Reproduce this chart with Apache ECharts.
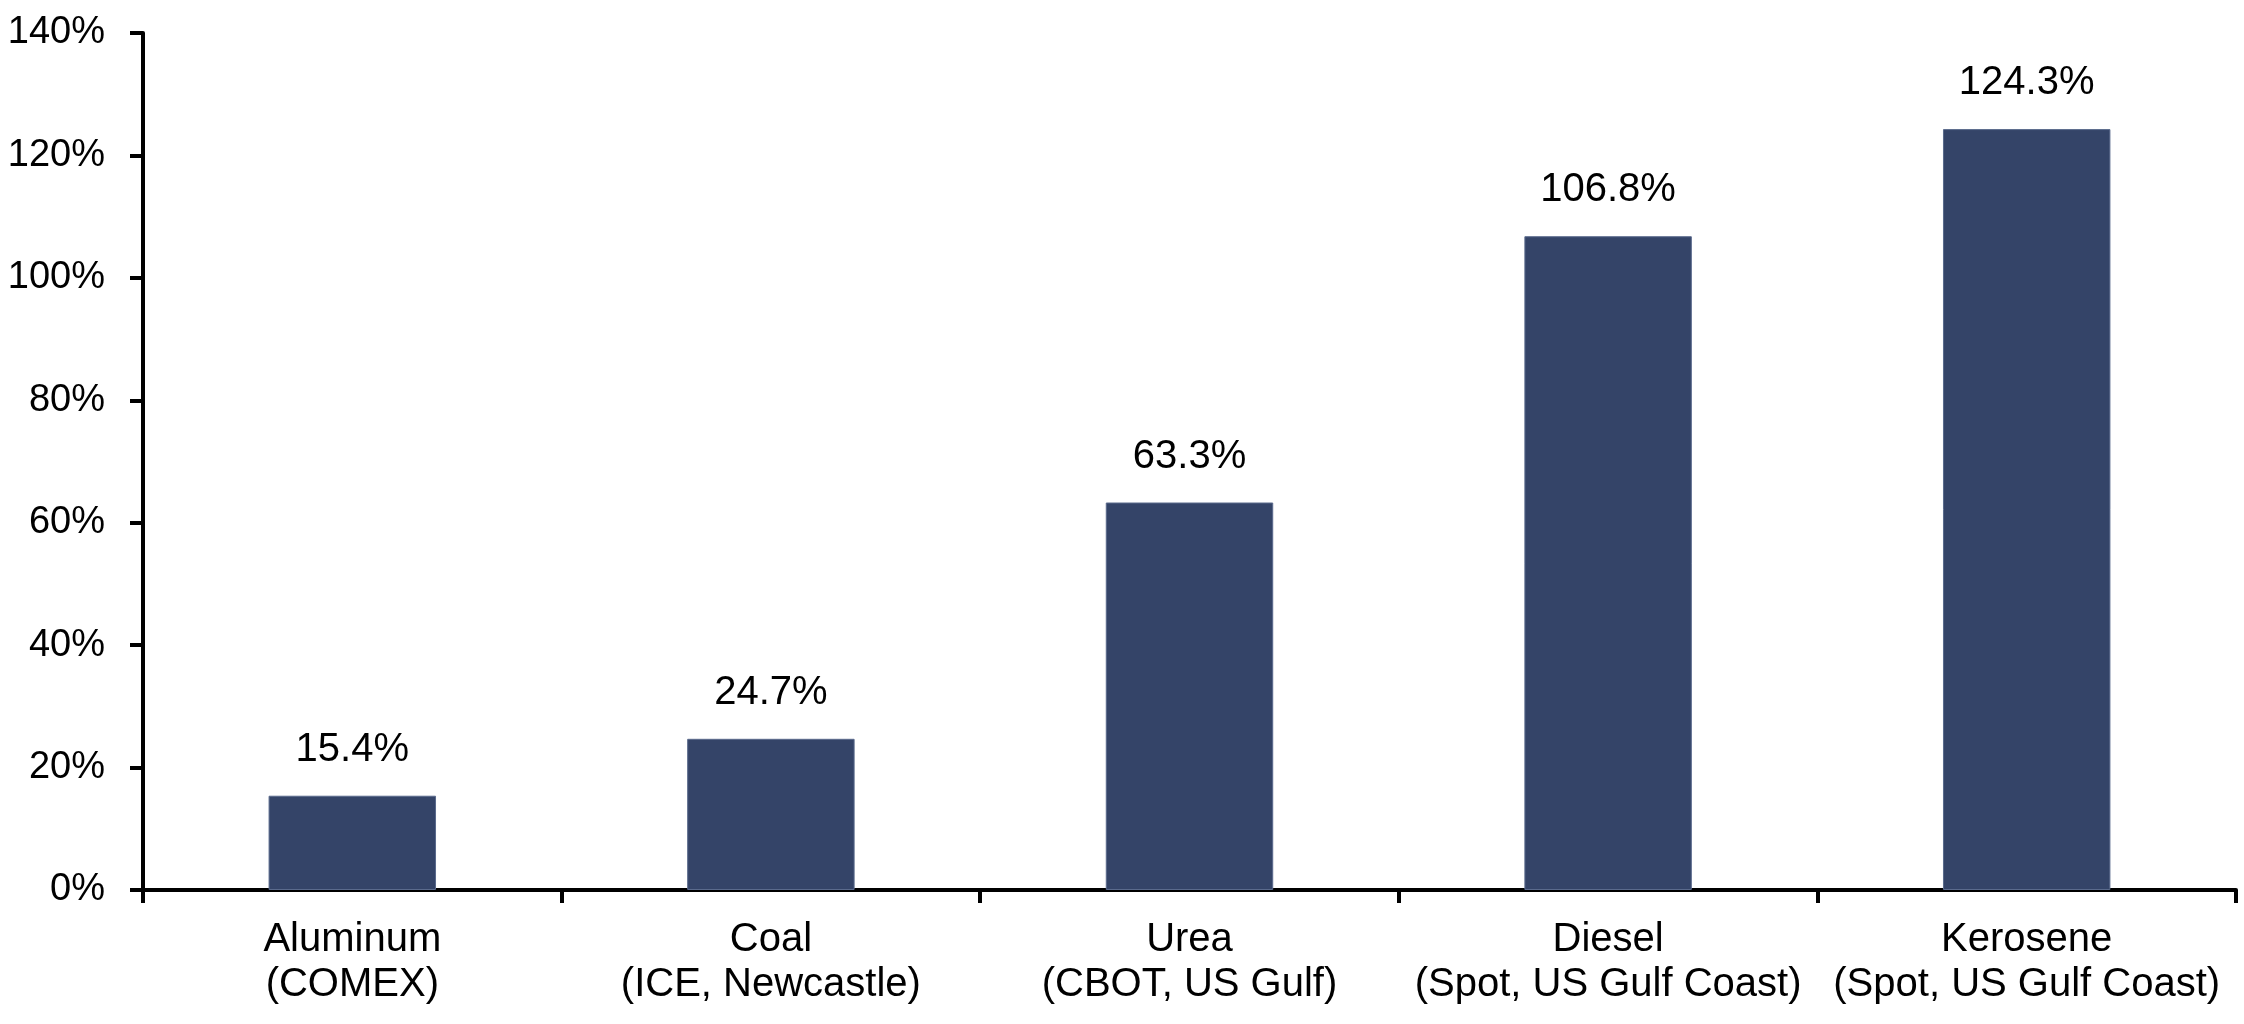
<!DOCTYPE html>
<html>
<head>
<meta charset="utf-8">
<script src="https://cdn.jsdelivr.net/npm/echarts@6/dist/echarts.min.js"></script>
<style>
  html, body { margin: 0; padding: 0; background: #fff; }
  #main { width: 2244px; height: 1024px; }
</style>
</head>
<body>
<div id="main"></div>
<script>
// data
const categories = [
  "Aluminum\n(COMEX)",
  "Coal\n(ICE, Newcastle)",
  "Urea\n(CBOT, US Gulf)",
  "Diesel\n(Spot, US Gulf Coast)",
  "Kerosene\n(Spot, US Gulf Coast)"
];
const values = [15.4, 24.7, 63.3, 106.8, 124.3];

const font = "Liberation Sans, Arial, sans-serif";
const myChart = echarts.init(document.getElementById("main"), null, { renderer: "canvas" });

const option = {
  animation: false,
  grid: { left: 143, right: 8, top: 33, bottom: 134 },
  xAxis: {
    type: "category",
    data: categories,
    axisLine: { lineStyle: { color: "#000", width: 4 } },
    axisTick: { show: true, length: 13, lineStyle: { color: "#000", width: 4 } },
    axisLabel: {
      color: "#000",
      fontFamily: font,
      fontSize: 40,
      lineHeight: 45,
      margin: 27,
      interval: 0
    }
  },
  yAxis: {
    type: "value",
    min: 0,
    max: 140,
    interval: 20,
    splitLine: { show: false },
    axisLine: { show: true, lineStyle: { color: "#000", width: 4 } },
    axisTick: { show: true, length: 13, lineStyle: { color: "#000", width: 4 } },
    axisLabel: {
      color: "#000",
      fontFamily: font,
      fontSize: 38,
      margin: 38,
      formatter: "{value}%"
    }
  },
  series: [
    {
      type: "bar",
      data: values,
      barWidth: "40%",
      itemStyle: { color: "#344468", borderColor: "#5a6a8c", borderWidth: 1 },
      label: {
        show: true,
        position: "top",
        distance: 26,
        color: "#000",
        fontFamily: font,
        fontSize: 40,
        formatter: (p) => p.value.toFixed(1) + "%"
      }
    }
  ]
};

myChart.setOption(option);
</script>
</body>
</html>
